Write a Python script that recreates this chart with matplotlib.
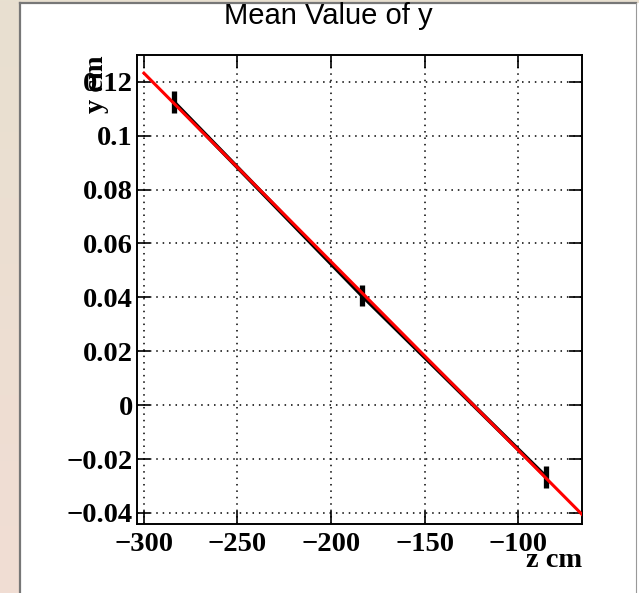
import matplotlib.pyplot as plt
import numpy as np
from matplotlib.patches import Rectangle
from matplotlib.lines import Line2D

# mean y per z slice
z_pos = [-284.0, -183.5, -85.0]
y_mean = [0.1125, 0.0407, -0.0266]
y_err = [0.0042, 0.0039, 0.0040]

x_ticks = [-300, -250, -200, -150, -100]
x_ticklabels = ['\u2212300', '\u2212250', '\u2212200', '\u2212150', '\u2212100']
y_ticks = [-0.04, -0.02, 0.0, 0.02, 0.04, 0.06, 0.08, 0.1, 0.12]
y_ticklabels = ['\u22120.04', '\u22120.02', '0', '0.02', '0.04', '0.06', '0.08', '0.1', '0.12']

W, H = 639, 593
fig = plt.figure(figsize=(W / 100, H / 100), dpi=100)

# window background: beige gradient, white canvas with grey frame
bg = fig.add_axes([0, 0, 1, 1], zorder=-10)
grad = np.linspace(0, 1, 256).reshape(-1, 1)
top_c = np.array([232, 224, 208]) / 255
bot_c = np.array([241, 221, 212]) / 255
img = top_c[None, None, :] * (1 - grad[:, :, None]) + bot_c[None, None, :] * grad[:, :, None]
bg.imshow(img, aspect='auto', extent=[0, 1, 0, 1])
bg.set_xlim(0, 1)
bg.set_ylim(0, 1)
bg.axis('off')
bg.add_patch(Rectangle((20 / W, 0), 1 - 20 / W, (H - 3) / H, facecolor='white', edgecolor='none'))
bg.add_line(Line2D([19.5 / W, 19.5 / W], [0, (H - 2.5) / H], color='#777777', lw=1.6))
bg.add_line(Line2D([19.5 / W, 636 / W], [(H - 2.5) / H, (H - 2.5) / H], color='#777777', lw=1.6))
bg.add_line(Line2D([636 / W, 636 / W], [0, (H - 2.5) / H], color='#999999', lw=0.8))

ax = fig.add_axes([137 / W, 1 - 524 / H, 445 / W, 469 / H])
ax.set_xlim(-303.7, -65.8)
ax.set_ylim(-0.0441, 0.1299)

# graph: connecting line plus error bars
ax.plot(z_pos, y_mean, color='black', lw=2.8, zorder=3)
ax.errorbar(z_pos, y_mean, yerr=y_err, fmt='none', ecolor='black', elinewidth=3.8, capsize=0, zorder=3)

# linear fit
slope, icpt = np.polyfit(z_pos, y_mean, 1)
zf = np.array([-300.0, -65.8])
ax.plot(zf, icpt + slope * zf, color='#ff0000', lw=2.2, zorder=4)

ax.grid(True, color='black', linestyle=(0, (1, 3.2)), lw=1.1)
ax.set_axisbelow(True)

ax.set_xticks(x_ticks)
ax.set_xticklabels(x_ticklabels)
ax.set_yticks(y_ticks)
ax.set_yticklabels(y_ticklabels)
ax.tick_params(direction='in', length=9.5, width=1.2, top=True, right=True)
ax.tick_params(axis='x', pad=6)
ax.tick_params(axis='y', pad=3)
for lab in ax.get_xticklabels() + ax.get_yticklabels():
    lab.set_family('Liberation Serif')
    lab.set_fontweight('bold')
    lab.set_fontsize(20.5)
for sp in ax.spines.values():
    sp.set_linewidth(1.4)

ax.text(1.0, -0.0917, 'z cm', transform=ax.transAxes, ha='right', va='baseline',
        family='Liberation Serif', fontweight='bold', fontsize=20.5)
ax.text(-0.092, 1.0, 'y cm', transform=ax.transAxes, ha='center', va='top', rotation=90,
        family='Liberation Serif', fontweight='bold', fontsize=20.5)

fig.text(328.5 / W, 1 - 23.5 / H, 'Mean Value of y', ha='center', va='baseline',
         family='Liberation Sans', fontsize=21)

fig.savefig('out.png', dpi=100)
